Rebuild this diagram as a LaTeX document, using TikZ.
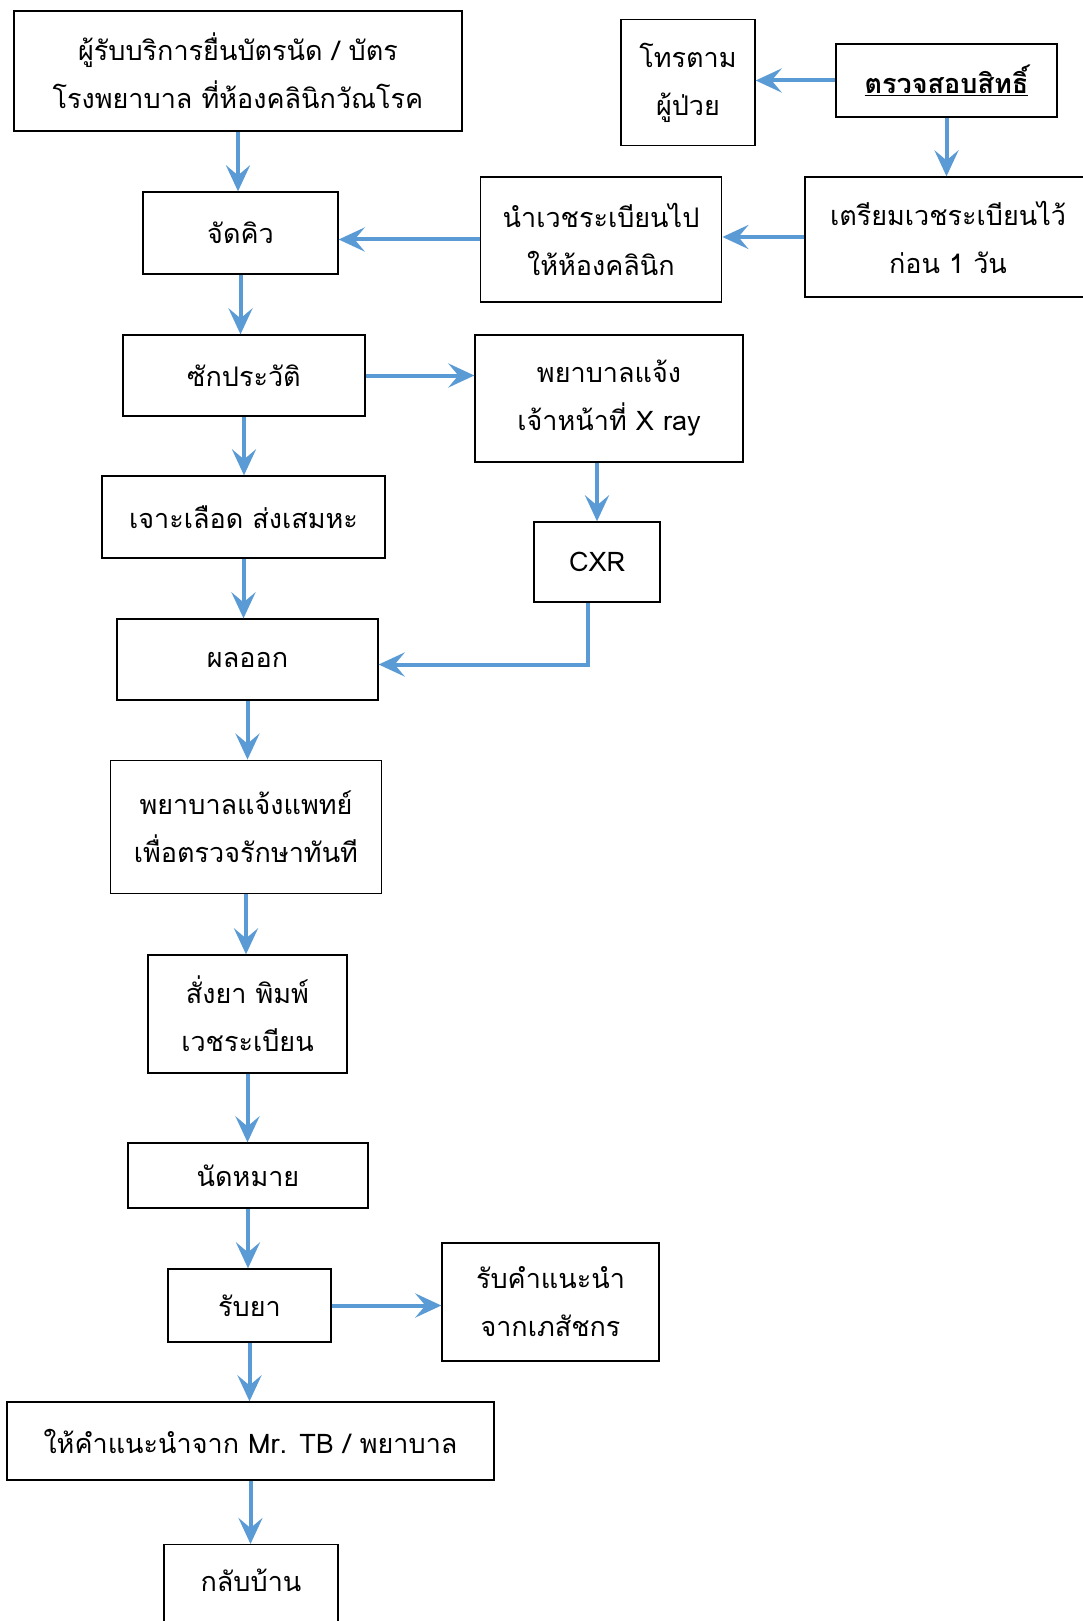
\documentclass[tikz,border=0pt]{standalone}
\usepackage{fontspec}
\setmainfont[Script=Thai]{Loma}
\usetikzlibrary{arrows.meta,calc}
\definecolor{arrblue}{RGB}{91,155,213}
\tikzset{
  box/.style={draw=black, line width=1.3pt, align=center, inner sep=0pt,
    font=\fontsize{27}{48}\selectfont},
  arr/.style={draw=arrblue, line width=4pt,
    -{Stealth[length=26pt, width=24pt, inset=10pt]}},
}
\begin{document}
\begin{tikzpicture}[x=1pt, y=-1pt]
\useasboundingbox (0,0) rectangle (1082,1621);
\node[box, minimum width=448pt, minimum height=120pt] (n1) at (238,71) {ผู้รับบริการยื่นบัตรนัด / บัตร\\โรงพยาบาล ที่ห้องคลินิกวัณโรค};
\node[box, minimum width=134pt, minimum height=126pt] (n2) at (688,82.5) {โทรตาม\\ผู้ป่วย};
\node[box, minimum width=221pt, minimum height=73pt] (n3) at (946.5,80.5) {\bfseries\underline{ตรวจสอบสิทธิ์}};
\node[box, minimum width=195pt, minimum height=82pt] (n4) at (240.5,233) {จัดคิว};
\node[box, minimum width=241.5pt, minimum height=125pt] (n5) at (601,239.5) {นำเวชระเบียนไป\\ให้ห้องคลินิก};
\node[box, minimum width=286pt, minimum height=120pt] (n6) at (948,237) {เตรียมเวชระเบียนไว้\\ก่อน 1 วัน};
\node[box, minimum width=242pt, minimum height=81pt] (n7) at (244,375.5) {ซักประวัติ};
\node[box, minimum width=268pt, minimum height=127pt] (n8) at (609,398.5) {พยาบาลแจ้ง\\เจ้าหน้าที่ X ray};
\node[box, minimum width=283pt, minimum height=82pt] (n9) at (243.5,517) {เจาะเลือด ส่งเสมหะ};
\node[box, minimum width=126pt, minimum height=80pt] (n10) at (597,562) {CXR};
\node[box, minimum width=261pt, minimum height=81pt] (n11) at (247.5,659.5) {ผลออก};
\node[box, minimum width=271.5pt, minimum height=133.5pt] (n12) at (246,827) {พยาบาลแจ้งแพทย์\\เพื่อตรวจรักษาทันที};
\node[box, minimum width=199pt, minimum height=118pt] (n13) at (247.5,1014) {สั่งยา พิมพ์\\เวชระเบียน};
\node[box, minimum width=240pt, minimum height=65pt] (n14) at (248,1175.5) {นัดหมาย};
\node[box, minimum width=163pt, minimum height=73pt] (n15) at (249.5,1305.5) {รับยา};
\node[box, minimum width=217pt, minimum height=118pt] (n16) at (550.5,1302) {รับคำแนะนำ\\จากเภสัชกร};
\node[box, minimum width=487pt, minimum height=78pt] (n17) at (250.5,1441) {ให้คำแนะนำจาก Mr. TB / พยาบาล};
\node[box, align=left, minimum width=174pt, text height=47pt, text depth=71pt, anchor=north] (n18) at (251,1544) {กลับบ้าน};

\draw[arr] (n1.south) -- (n1.south |- n4.north);
\draw[arr] (n3.west) -- (n3.west -| n2.east);
\draw[arr] (n3.south) -- (n3.south |- n6.north);
\draw[arr] (n6.west) -- (n6.west -| n5.east);
\draw[arr] (n5.west) -- (n5.west -| n4.east);
\draw[arr] (n4.south) -- (n4.south |- n7.north);
\draw[arr] (n7.east) -- (n7.east -| n8.west);
\draw[arr] (n7.south) -- (n7.south |- n9.north);
\draw[arr] (n10.north |- n8.south) -- (n10.north);
\draw[arr] (n9.south) -- (n9.south |- n11.north);
\coordinate (c1) at ($(n10.south)+(-9,0)$);
\draw[arr] (c1) |- ($(n11.east)+(0,5)$);
\draw[arr] (n11.south) -- (n11.south |- n12.north);
\draw[arr] (n12.south) -- (n12.south |- n13.north);
\draw[arr] (n13.south) -- (n13.south |- n14.north);
\draw[arr] (n14.south) -- (n14.south |- n15.north);
\draw[arr] (n15.east) -- (n15.east -| n16.west);
\draw[arr] (n15.south) -- (n15.south |- n17.north);
\draw[arr] (n17.south) -- (n17.south |- n18.north);
\end{tikzpicture}
\end{document}
